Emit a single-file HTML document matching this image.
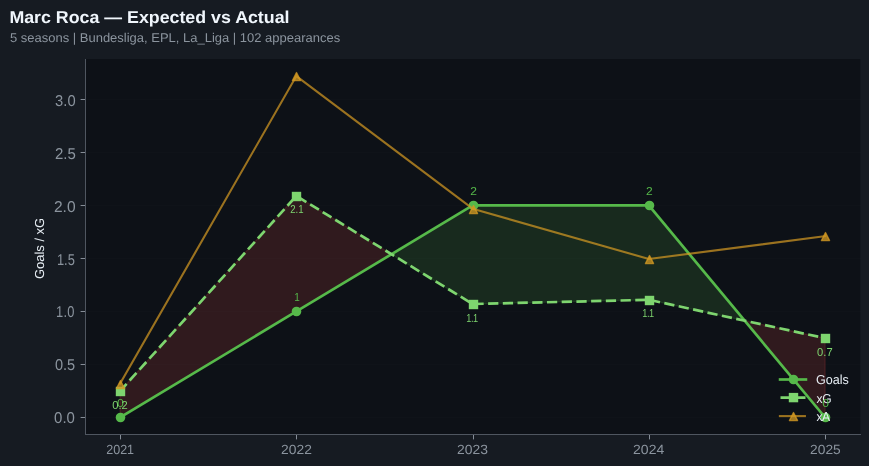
<!DOCTYPE html>
<html lang="en">
<head>
<meta charset="utf-8">
<title>Marc Roca — Expected vs Actual</title>
<style>
html,body{margin:0;padding:0;background:#161b22;}
body{width:869px;height:466px;overflow:hidden;position:relative;font-family:"Liberation Sans",sans-serif;}
svg{position:absolute;left:0;top:0;display:block;}
text{font-family:"Liberation Sans",sans-serif;text-rendering:geometricPrecision;}
.title{font-weight:700;font-size:17.2px;fill:#f0f6fc;}
.sub{font-size:12.7px;fill:#8b949e;}
.yt{font-size:15.7px;fill:#8b949e;}
.xt{font-size:13.3px;fill:#8b949e;}
.yl{font-size:13.0px;fill:#e6edf3;}
.lg{font-size:13.0px;fill:#e6edf3;}
.gl{font-size:11.5px;fill:#56b94a;}
.xl{font-size:11.5px;fill:#7ed56f;}
</style>
</head>
<body>
<svg width="869" height="466" viewBox="0 0 869 466">
<rect x="0" y="0" width="869" height="466" fill="#161b22"/>
<rect x="85" y="59" width="775.3" height="375.5" fill="#0d1117"/>
<!-- header -->
<text class="title" transform="translate(9.38 22.9) scale(1.035 1)">Marc Roca — Expected vs Actual</text>
<text class="sub" transform="translate(10.0 41.7) scale(1.0236 1)">5 seasons | Bundesliga, EPL, La_Liga | 102 appearances</text>
<!-- grid -->
<g stroke="rgba(255,255,255,0.012)" stroke-width="1" shape-rendering="crispEdges">
<line x1="85.5" x2="860.5" y1="417.5" y2="417.5"/>
<line x1="85.5" x2="860.5" y1="364.5" y2="364.5"/>
<line x1="85.5" x2="860.5" y1="311.5" y2="311.5"/>
<line x1="85.5" x2="860.5" y1="258.5" y2="258.5"/>
<line x1="85.5" x2="860.5" y1="205.5" y2="205.5"/>
<line x1="85.5" x2="860.5" y1="152.5" y2="152.5"/>
<line x1="85.5" x2="860.5" y1="99.5" y2="99.5"/>
</g>
<!-- over/under performance fill -->
<polygon fill="#f85149" fill-opacity="0.15" stroke="#f85149" stroke-opacity="0.15" stroke-width="1.39" stroke-linejoin="miter" points="120.12,391 296.37,195.9 391.49,254.24 296.37,311.45 120.12,417.45"/>
<polygon fill="#56b94a" fill-opacity="0.15" stroke="#56b94a" stroke-opacity="0.15" stroke-width="1.39" stroke-linejoin="miter" points="391.49,254.24 472.62,304 648.87,299.8 744.66,320.67 648.87,205.45 472.62,205.45"/>
<polygon fill="#f85149" fill-opacity="0.15" stroke="#f85149" stroke-opacity="0.15" stroke-width="1.39" stroke-linejoin="miter" points="744.66,320.67 825.12,338.2 825.12,417.45"/>
<!-- series -->
<polyline fill="none" stroke="#56b94a" stroke-width="2.7" stroke-linejoin="round" stroke-linecap="square" points="120.12,417.45 296.37,311.45 472.62,205.45 648.87,205.45 825.12,417.45"/>
<circle cx="120.5" cy="417.5" r="4.8" fill="#56b94a"/>
<circle cx="296.5" cy="311.5" r="4.8" fill="#56b94a"/>
<circle cx="473.5" cy="205.5" r="4.8" fill="#56b94a"/>
<circle cx="649.5" cy="205.5" r="4.8" fill="#56b94a"/>
<circle cx="825.5" cy="417.5" r="4.8" fill="#56b94a"/>
<polyline fill="none" stroke="#7ed56f" stroke-width="2.7" stroke-linejoin="round" stroke-dasharray="10.28 4.44" stroke-dashoffset="0.6" points="120.12,391 296.37,195.9 472.62,304 648.87,299.8 825.12,338.2"/>
<rect x="115.8" y="386.8" width="9.4" height="9.4" fill="#7ed56f"/>
<rect x="291.8" y="191.8" width="9.4" height="9.4" fill="#7ed56f"/>
<rect x="468.8" y="299.8" width="9.4" height="9.4" fill="#7ed56f"/>
<rect x="644.8" y="295.8" width="9.4" height="9.4" fill="#7ed56f"/>
<rect x="820.8" y="333.8" width="9.4" height="9.4" fill="#7ed56f"/>
<polyline fill="none" stroke="#d29922" stroke-opacity="0.72" stroke-width="2.08" stroke-linejoin="round" stroke-linecap="square" points="120.12,383.6 296.37,76.1 472.62,208.7 648.87,259 825.12,236.2"/>
<g fill="#d29922" fill-opacity="0.76" stroke="#d29922" stroke-opacity="0.76" stroke-width="1.39" stroke-linejoin="round">
<polygon points="120.5,380.5 116.45,388.6 124.55,388.6"/>
<polygon points="296.5,72.5 292.45,80.6 300.55,80.6"/>
<polygon points="473.5,205.5 469.45,213.6 477.55,213.6"/>
<polygon points="649.5,255.5 645.45,263.6 653.55,263.6"/>
<polygon points="825.5,232.5 821.45,240.6 829.55,240.6"/>
</g>
<!-- axes -->
<g stroke="#4f5660" stroke-width="1" shape-rendering="crispEdges">
<line x1="85.5" x2="85.5" y1="59.0" y2="435.0"/>
<line x1="85.0" x2="861.0" y1="434.5" y2="434.5"/>
</g>
<g fill="#858d97">
<rect x="80.6" y="417" width="4.4" height="1"/>
<rect x="80.6" y="364" width="4.4" height="1"/>
<rect x="80.6" y="311" width="4.4" height="1"/>
<rect x="80.6" y="258" width="4.4" height="1"/>
<rect x="80.6" y="205" width="4.4" height="1"/>
<rect x="80.6" y="152" width="4.4" height="1"/>
<rect x="80.6" y="99" width="4.4" height="1"/>
<rect x="120" y="435.0" width="1" height="4.4"/>
<rect x="296" y="435.0" width="1" height="4.4"/>
<rect x="473" y="435.0" width="1" height="4.4"/>
<rect x="649" y="435.0" width="1" height="4.4"/>
<rect x="825" y="435.0" width="1" height="4.4"/>
</g>
<text class="yt" transform="translate(54.08 423.05) scale(0.9552 1)">0.0</text>
<text class="yt" transform="translate(55.1 370.05) scale(0.93 1)" letter-spacing="-0.142">0.5</text>
<text class="yt" transform="translate(56.05 317.05) scale(0.82 1)" letter-spacing="0.334">1.0</text>
<text class="yt" transform="translate(57.0 265.0) scale(0.82 1)" letter-spacing="-0.046">1.5</text>
<text class="yt" transform="translate(53.95 212.0) scale(0.9927 1)">2.0</text>
<text class="yt" transform="translate(54.95 159.0) scale(0.9571 1)">2.5</text>
<text class="yt" transform="translate(55.1 106.0) scale(0.9394 1)">3.0</text>
<text class="xt" transform="translate(106.17 454.1) scale(0.9436 1)">2021</text>
<text class="xt" transform="translate(281.07 454.1) scale(1.0407 1)">2022</text>
<text class="xt" transform="translate(457.07 454.1) scale(1.0449 1)">2023</text>
<text class="xt" transform="translate(633.08 454.1) scale(1.0533 1)">2024</text>
<text class="xt" transform="translate(810.08 454.1) scale(1.0361 1)">2025</text>
<text class="yl" transform="translate(44.1 278.5) rotate(-90) translate(-0.62 0) scale(0.9983 1)">Goals / xG</text>
<!-- legend -->
<line x1="780.1" x2="805.9" y1="379.5" y2="379.5" stroke="#56b94a" stroke-width="2.7" stroke-linecap="square"/>
<circle cx="793.5" cy="379.5" r="4.8" fill="#56b94a"/>
<line x1="780.5" x2="806.3" y1="397.6" y2="397.6" stroke="#7ed56f" stroke-width="2.7" stroke-dasharray="10.28 4.44"/>
<rect x="788.8" y="392.9" width="9.4" height="9.4" fill="#7ed56f"/>
<line x1="779.9" x2="804.9" y1="416.1" y2="416.1" stroke="#d29922" stroke-opacity="0.72" stroke-width="2.08" stroke-linecap="square"/>
<g fill="#d29922" fill-opacity="0.76" stroke="#d29922" stroke-opacity="0.76" stroke-width="1.39" stroke-linejoin="round"><polygon points="793.5,412.5 789.45,420.6 797.55,420.6"/></g>
<text class="lg" transform="translate(815.88 384.0) scale(0.9665 1)">Goals</text>
<text class="lg" transform="translate(816.38 402.9) scale(0.93 1)" letter-spacing="-0.07">xG</text>
<text class="lg" transform="translate(816.38 420.9) scale(0.93 1)" letter-spacing="-0.457">xA</text>
<!-- point labels -->
<text class="gl" transform="translate(117.1 407.0) scale(1.0632 1)">0</text>
<text class="gl" transform="translate(294.15 301.0) scale(0.8701 1)">1</text>
<text class="gl" transform="translate(470.18 195.25) scale(1.0471 1)">2</text>
<text class="gl" transform="translate(646.08 195.1) scale(1.0471 1)">2</text>
<text class="gl" transform="translate(822.27 407.0) scale(1.0595 1)">0</text>
<text class="xl" transform="translate(112.28 408.95) scale(0.97 1)">0.2</text>
<text class="xl" transform="translate(290.2 213.0) scale(0.84 1)" letter-spacing="0.015">2.1</text>
<text class="xl" transform="translate(466.27 322.05) scale(0.8 1)" letter-spacing="-0.531">1.1</text>
<text class="xl" transform="translate(642.27 317.1) scale(0.8 1)" letter-spacing="-0.531">1.1</text>
<text class="xl" transform="translate(817.12 356.1) scale(0.97 1)">0.7</text>
</svg>
</body>
</html>
